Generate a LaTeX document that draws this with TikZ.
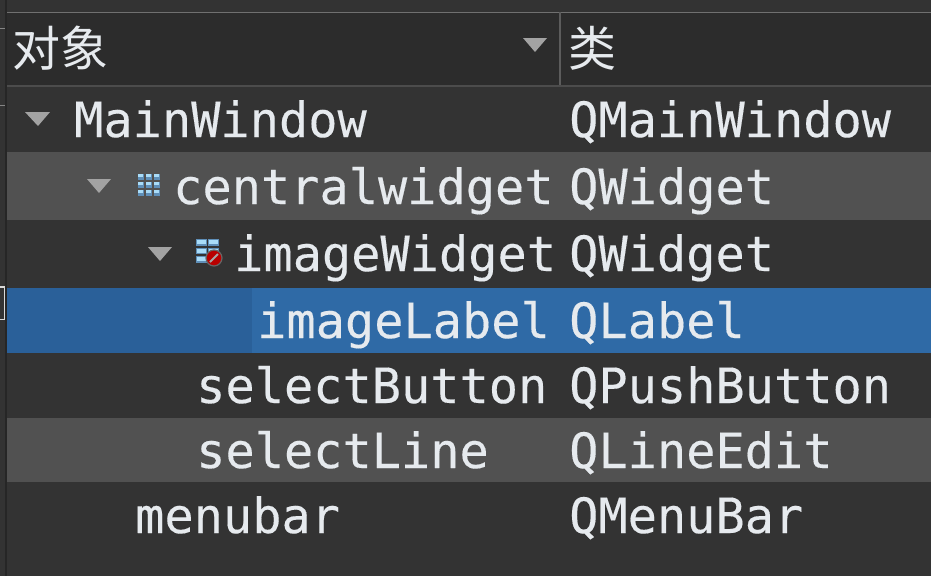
\documentclass[tikz,border=0pt]{standalone}
\usepackage{fontspec}
\setmonofont[FakeBold=0.25]{DejaVu Sans Mono}
\newfontfamily\cjk{Noto Sans CJK SC}
\usepackage{tikz}
\definecolor{panelbg}{HTML}{333333}
\definecolor{headerbg}{HTML}{2C2C2C}
\definecolor{striperow}{HTML}{515151}
\definecolor{selectrow}{HTML}{2A6099}
\definecolor{selectcell}{HTML}{2F6AA6}
\definecolor{itemtext}{HTML}{E6EAEE}
\definecolor{arrowgrey}{HTML}{A3A3A3}
\definecolor{iconblue}{HTML}{A9DCF8}
\definecolor{iconshade}{HTML}{5F8FB8}
\tikzset{
  itemlabel/.style={anchor=base west,inner sep=0pt,text=itemtext,
    font=\ttfamily\fontsize{48.6}{50}\selectfont},
  headerlabel/.style={anchor=base west,inner sep=0pt,text=itemtext,
    font=\cjk\fontsize{48}{50}\selectfont},
  rowband/.style={draw=none},
  treearrow/.style={fill=arrowgrey,draw=none},
  iconcell/.style={fill=iconblue,draw=none},
  iconbase/.style={fill=iconshade,draw=none}
}
\begin{document}
\begin{tikzpicture}[x=1pt,y=-1pt]
  \useasboundingbox (0,0) rectangle (931,576);
  % backgrounds
  \fill[panelbg] (0,0) rectangle (931,576);
  \fill[headerbg] (7,13) rectangle (931,85);
  \fill[black!85] (5,0) rectangle (7,576);
  \draw[black!70,line width=2pt] (7,86) -- (931,86);
  \draw[white!30!panelbg,line width=1pt] (7,12.5) -- (931,12.5);
  \draw[white!20!panelbg,line width=2pt] (560,12) -- (560,85);
  \draw[white!40!panelbg,line width=1pt] (0,28) -- (5,28);
  \draw[white!40!panelbg,line width=1pt] (0,105) -- (5,105);
  \fill[rowband,striperow] (7,152) rectangle (931,220);
  \fill[rowband,selectrow] (7,288) rectangle (931,353);
  \fill[rowband,selectcell] (252,288) rectangle (931,353);
  \fill[rowband,striperow] (7,418) rectangle (931,482);
  \draw[white!85!black,line width=1.2pt] (0,287) -- (4.5,287) -- (4.5,319.5) -- (0,319.5);
  % header
  \node[headerlabel] (objhead) at (12,66) {对象};
  \node[headerlabel] (classhead) at (568,66) {类};
  \fill[treearrow] (523,38) -- (547,38) -- (535,52) -- cycle;
  % tree column
  \node[itemlabel] (mainwindow) at (74,137) {MainWindow};
  \node[itemlabel] (centralwidget) at (173,204) {centralwidget};
  \node[itemlabel] (imagewidget) at (234,271) {imageWidget};
  \node[itemlabel] (imagelabel) at (257,338) {imageLabel};
  \node[itemlabel] (selectbutton) at (196,403) {selectButton};
  \node[itemlabel] (selectline) at (196,468) {selectLine};
  \node[itemlabel] (menubar) at (135,533) {menubar};
  % class column
  \node[itemlabel] (qmainwindow) at (569,137) {QMainWindow};
  \node[itemlabel] (qcentral) at (569,204) {QWidget};
  \node[itemlabel] (qimage) at (569,271) {QWidget};
  \node[itemlabel] (qlabel) at (569,338) {QLabel};
  \node[itemlabel] (qbutton) at (569,403) {QPushButton};
  \node[itemlabel] (qline) at (569,468) {QLineEdit};
  \node[itemlabel] (qmenubar) at (569,533) {QMenuBar};
  % expand arrows
  \fill[treearrow] (25,112) -- (50,112) -- (38,126) -- cycle;
  \fill[treearrow] (87,179) -- (111,179) -- (99,193) -- cycle;
  \fill[treearrow] (148,247) -- (172,247) -- (160,261) -- cycle;
  % grid icon
  \foreach \ix in {0,1,2} \foreach \iy in {0,1,2} {
    \fill[iconbase] (138+8*\ix,174+8*\iy) rectangle ++(6,6);
    \fill[iconcell] (138+8*\ix,174+8*\iy) rectangle ++(5,3);
  }
  % broken layout icon
  \foreach \iy in {0,1,2} {
    \fill[iconbase] (196,239+8.5*\iy) rectangle ++(11,6.5);
    \fill[iconcell] (197,240+8.5*\iy) rectangle ++(9,4);
  }
  \foreach \iy in {0,1} {
    \fill[iconbase] (208,239+8.5*\iy) rectangle ++(11,6.5);
    \fill[iconcell] (209,240+8.5*\iy) rectangle ++(9,4);
  }
  \fill[red!72!black,draw=black!60,line width=1.2pt] (214,258) circle (8);
  \draw[white!65!black,line width=2pt] (210,262) -- (218,254);
\end{tikzpicture}
\end{document}
